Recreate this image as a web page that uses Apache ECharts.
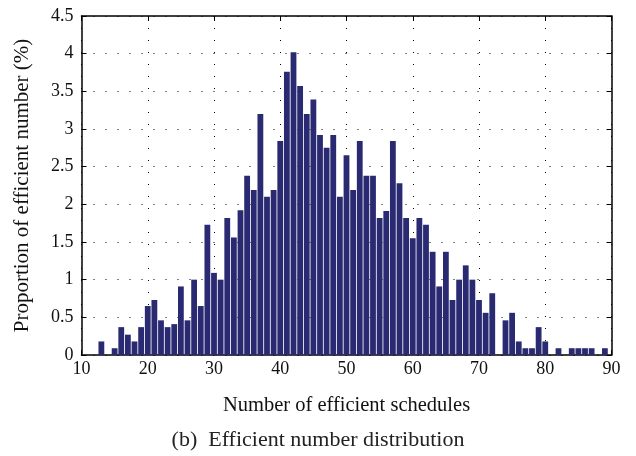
<!DOCTYPE html>
<html>
<head>
<meta charset="utf-8">
<script src="https://cdn.jsdelivr.net/npm/echarts@6/dist/echarts.min.js"></script>
<style>
html,body{margin:0;padding:0;background:#fff;}
#c{width:636px;height:456px;}
</style>
</head>
<body>
<div id="c"></div>
<script>
const schedules = [13,15,16,17,18,19,20,21,22,23,24,25,26,27,28,29,30,31,32,33,34,35,36,37,38,39,40,41,42,43,44,45,46,47,48,49,50,51,52,53,54,55,56,57,58,59,60,61,62,63,64,65,66,67,68,69,70,71,72,74,75,76,77,78,79,80,82,84,85,86,87,89];
const proportions = [0.18,0.09,0.37,0.27,0.18,0.37,0.65,0.73,0.46,0.37,0.41,0.91,0.46,1.0,0.65,1.73,1.09,1.0,1.82,1.56,1.92,2.38,2.19,3.2,2.1,2.19,2.84,3.76,4.02,3.57,3.2,3.39,2.92,2.75,2.92,2.1,2.65,2.19,2.84,2.38,2.38,1.82,1.91,2.84,2.28,1.82,1.55,1.82,1.73,1.37,0.91,1.37,0.73,1.0,1.19,1.0,0.73,0.56,0.82,0.46,0.56,0.18,0.09,0.09,0.37,0.18,0.09,0.09,0.09,0.09,0.09,0.09];
const xTicks = [10,20,30,40,50,60,70,80,90];
const yTicks = [0,0.5,1,1.5,2,2.5,3,3.5,4,4.5];
const xTitle = 'Number of efficient schedules';
const yTitle = 'Proportion of efficient number (%)';
const caption = '(b)  Efficient number distribution';

const font = '"Liberation Serif", "DejaVu Serif", serif';
const chart = echarts.init(document.getElementById('c'), null, {renderer:'canvas'});
const dotted = {color:'#000', width:1, type:[1,11]};
const axisLine = {show:true, onZero:false, lineStyle:{color:'#000', width:1.5}};
chart.setOption({
  animation:false,
  backgroundColor:'#fff',
  grid:{left:81.5, right:24.5, top:16, bottom:101, show:false},
  title:{text:caption, left:'center', top:424, textStyle:{fontFamily:font, fontSize:22, fontWeight:'normal', color:'#222'}},
  xAxis:[{
    type:'value', min:xTicks[0], max:xTicks[xTicks.length-1], interval:10, position:'bottom',
    name:xTitle, nameLocation:'middle', nameGap:40,
    nameTextStyle:{fontFamily:font, fontSize:20.5, color:'#111'},
    axisLine:axisLine, axisTick:{show:true, inside:true, length:5, lineStyle:{color:'#000'}},
    axisLabel:{fontFamily:font, fontSize:18, color:'#111', margin:5},
    splitLine:{show:true, lineStyle:dotted}
  },{
    type:'value', min:xTicks[0], max:xTicks[xTicks.length-1], interval:10, position:'top',
    axisLine:axisLine, axisTick:{show:true, inside:true, length:5, lineStyle:{color:'#000'}},
    axisLabel:{show:false}, splitLine:{show:false}
  }],
  yAxis:[{
    type:'value', min:yTicks[0], max:yTicks[yTicks.length-1], interval:0.5, position:'left',
    name:yTitle, nameLocation:'middle', nameGap:49, nameRotate:90,
    nameTextStyle:{fontFamily:font, fontSize:21, color:'#111'},
    axisLine:axisLine, axisTick:{show:true, inside:true, length:5, lineStyle:{color:'#000'}},
    axisLabel:{fontFamily:font, fontSize:18, color:'#111', margin:8},
    splitLine:{show:true, lineStyle:dotted}
  },{
    type:'value', min:yTicks[0], max:yTicks[yTicks.length-1], interval:0.5, position:'right',
    axisLine:axisLine, axisTick:{show:true, inside:true, length:5, lineStyle:{color:'#000'}},
    axisLabel:{show:false}, splitLine:{show:false}
  }],
  series:[{
    type:'bar', xAxisIndex:0, yAxisIndex:0, barWidth:5.8,
    itemStyle:{color:'#2a2a72'},
    data: schedules.map((s,i)=>[s, proportions[i]])
  }]
});
</script>
</body>
</html>
